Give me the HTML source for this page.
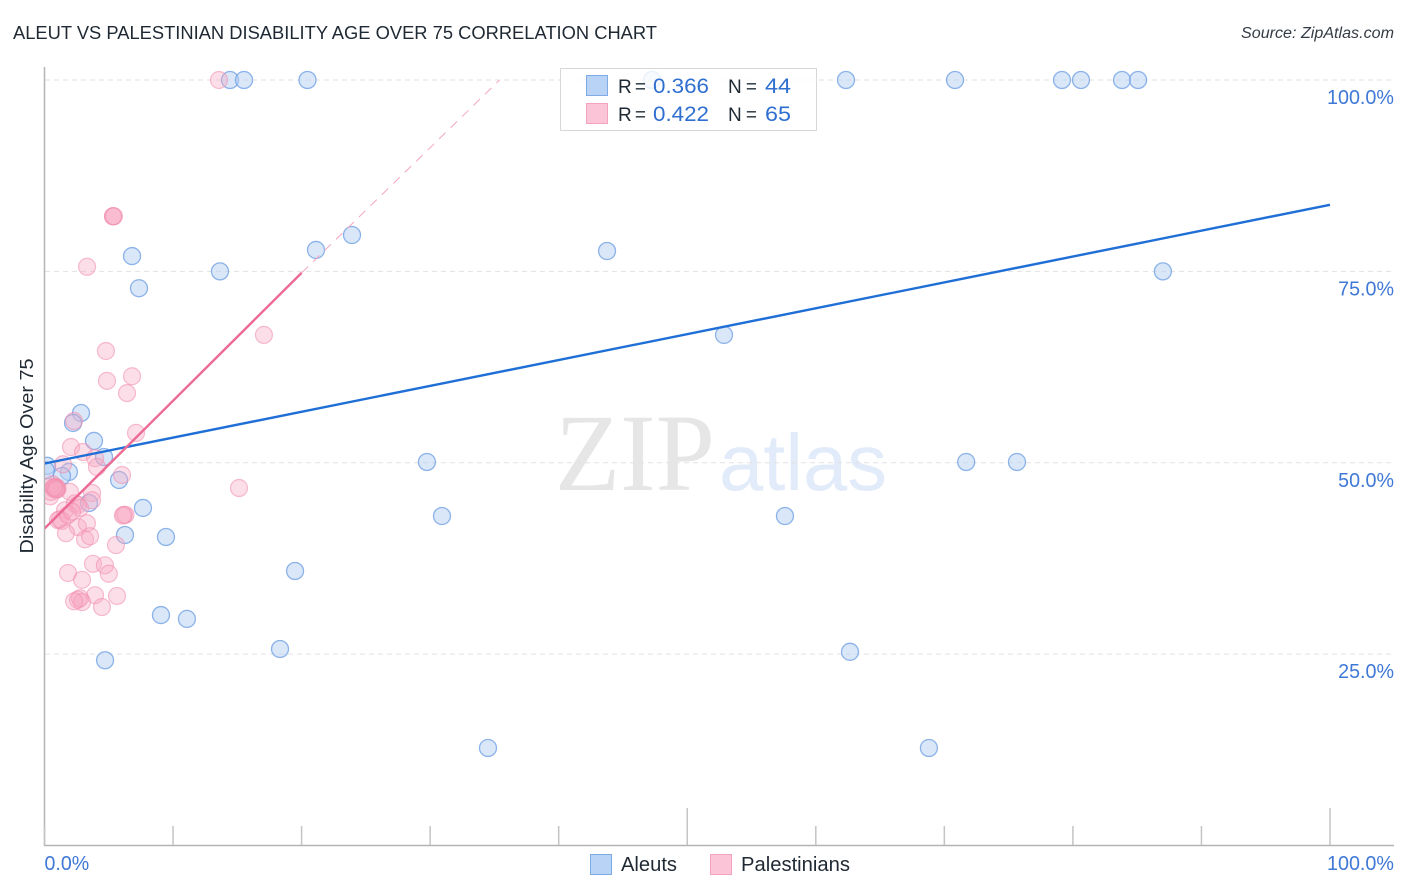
<!DOCTYPE html>
<html lang="en">
<head>
<meta charset="utf-8">
<title>Aleut vs Palestinian Disability Age Over 75 Correlation Chart</title>
<style>
html,body{margin:0;padding:0;background:#fff;}
svg{display:block;font-family:"Liberation Sans",sans-serif;}
</style>
</head>
<body>
<svg id="chart" width="1406" height="892" viewBox="0 0 1406 892" xmlns="http://www.w3.org/2000/svg">
  <defs>
    <clipPath id="plot-clip"><rect x="45" y="60" width="1349" height="786"/></clipPath>
  </defs>
  <rect x="0" y="0" width="1406" height="892" fill="#ffffff"/>
  <text x="13" y="39" font-size="18.5" fill="#1f2933" textLength="644" lengthAdjust="spacingAndGlyphs">ALEUT VS PALESTINIAN DISABILITY AGE OVER 75 CORRELATION CHART</text>
  <text x="1241" y="38" font-size="15.5" font-style="italic" fill="#333c45" textLength="153" lengthAdjust="spacingAndGlyphs">Source: ZipAtlas.com</text>
  <g>
    <text x="555" y="490" font-family="'Liberation Serif',serif" font-size="110" fill="#e6e6e6" textLength="160" lengthAdjust="spacingAndGlyphs">ZIP</text>
    <text x="719" y="490" font-size="80" fill="#e2ebf9" textLength="168" lengthAdjust="spacingAndGlyphs">atlas</text>
  </g>
  <g id="grid"></g>
  <g id="axes"></g>
  <g id="marks-aleut" clip-path="url(#plot-clip)"></g>
  <g id="marks-pal" clip-path="url(#plot-clip)"></g>
  <g id="trends" clip-path="url(#plot-clip)"></g>
  <text transform="translate(33,456) rotate(-90)" font-size="18" fill="#1f2933" text-anchor="middle" textLength="195" lengthAdjust="spacingAndGlyphs">Disability Age Over 75</text>
  <g id="tick-labels"></g>

  <g>
    <rect x="560.5" y="68.5" width="256" height="62" fill="#ffffff" fill-opacity="0.8" stroke="#d8d8d8" stroke-width="1"/>
    <rect x="586.5" y="75.5" width="21" height="20" fill="#b9d3f6" stroke="#7eaae6" stroke-width="1"/>
    <rect x="586.5" y="103.5" width="21" height="20" fill="#fcc5d7" stroke="#f4a3bd" stroke-width="1"/>
    <text x="618" y="93" font-size="19" fill="#1f2933" textLength="28">R =</text>
    <text x="653" y="93" font-size="21" fill="#2f6fd0" textLength="56" lengthAdjust="spacingAndGlyphs">0.366</text>
    <text x="728" y="93" font-size="19" fill="#1f2933" textLength="29">N =</text>
    <text x="765" y="93" font-size="21" fill="#2f6fd0" textLength="26" lengthAdjust="spacingAndGlyphs">44</text>
    <text x="618" y="121" font-size="19" fill="#1f2933" textLength="28">R =</text>
    <text x="653" y="121" font-size="21" fill="#2f6fd0" textLength="56" lengthAdjust="spacingAndGlyphs">0.422</text>
    <text x="728" y="121" font-size="19" fill="#1f2933" textLength="29">N =</text>
    <text x="765" y="121" font-size="21" fill="#2f6fd0" textLength="26" lengthAdjust="spacingAndGlyphs">65</text>
  </g>

  <g>
    <rect x="590.5" y="854.5" width="21" height="20" fill="#b9d3f6" stroke="#7eaae6" stroke-width="1"/>
    <text x="621" y="871" font-size="20" fill="#1f2933" textLength="56" lengthAdjust="spacingAndGlyphs">Aleuts</text>
    <rect x="710.5" y="854.5" width="21" height="20" fill="#fcc5d7" stroke="#f4a3bd" stroke-width="1"/>
    <text x="741" y="871" font-size="20" fill="#1f2933" textLength="109" lengthAdjust="spacingAndGlyphs">Palestinians</text>
  </g>
</svg>
<script>
// ---- chart data (percent values) ----
const aleutX = [14.43,15.52,20.46,47.26,62.35,70.83,79.15,80.63,83.82,85.07,6.81,7.35,13.65,21.12,23.92,43.76,87.0,52.86,2.84,2.22,3.85,4.63,0.2,0.1,1.9,1.36,5.8,3.46,7.66,6.26,9.45,29.75,30.92,57.6,71.7,75.65,19.49,9.06,11.08,18.32,62.66,4.71,34.5,68.8];
const aleutY = [100,100,100,100,100,100,100,100,100,100,77.0,72.8,75,77.8,79.75,77.66,75,66.7,56.5,55.2,52.85,50.75,49.6,49,48.8,48.27,47.75,44.74,44.1,40.56,40.3,50.1,43.04,43.04,50.1,50.1,35.86,30.1,29.6,25.67,25.3,24.2,12.74,12.74];
const palX = [13.57,5.33,5.33,5.4,3.31,17.07,4.78,4.86,6.81,6.42,7.12,2.29,2.06,3.0,3.93,4.08,6.03,1.44,15.13,0.8,0.9,1.0,0.7,0.8,0.9,0.43,0.5,0.6,1.98,3.7,3.7,1.6,2.37,1.05,1.36,1.2,2.6,3.3,1.67,3.15,3.54,5.56,6.18,6.3,6.1,3.77,4.7,5.0,1.83,2.92,5.64,3.93,2.6,2.76,2.92,2.3,4.47,2.6,2.76,1.83,2.14,0.8,1.0,0.7,0.9];
const palY = [100,82.2,82.2,82.2,75.6,66.7,64.6,60.7,61.3,59.1,53.9,55.45,52.06,51.4,50.6,49.45,48.4,49.8,46.7,46.9,46.6,46.5,46.6,46.7,46.8,45.6,46.2,47.2,46.2,46.05,45.1,43.8,44.7,42.5,42.4,42.6,41.6,42.1,40.8,40,40.4,39.25,43.2,43.2,43.1,36.8,36.6,35.5,35.6,34.7,32.6,32.7,32.1,32.3,31.8,31.9,31.15,44.5,44.1,43.2,43.6,46.7,46.7,46.8,46.5];
const aleutTrendX = [0,100];
const aleutTrendY = [49.9,83.7];
const palTrendSolidX = [0,20];
const palTrendSolidY = [41.4,74.8];
const palTrendDashX = [20,35.4];
const palTrendDashY = [74.8,100];
const yTicks = [100,75,50,25];
const yTickLabels = ["100.0%","75.0%","50.0%","25.0%"];
const xTicks = [0,10,20,30,40,50,60,70,80,90,100];
const xMajorTicks = [50,100];
const xEndTicks = [0,100];
const xEndLabels = ["0.0%","100.0%"];

// ---- axis functions ----
function sx(v){return 44.5 + v*12.855;}
function sy(v){return 845.5 - v*7.655;}
const NS = "http://www.w3.org/2000/svg";
function mk(tag,parent,props){
  const el = document.createElementNS(NS,tag);
  for(const k in props){el.setAttribute(k,props[k]);}
  parent.appendChild(el);
  return el;
}
const grid = document.getElementById("grid");
yTicks.forEach(function(t){
  const g = mk("line",grid,{x1:45,x2:1394,y1:sy(t),y2:sy(t),stroke:"#e2e2e2","stroke-width":1,"stroke-dasharray":"5 4"});
  
  
});
const axes = document.getElementById("axes");
const yAxis = mk("line",axes,{x1:44.5,x2:44.5,y1:67,y2:846,stroke:"#b4b4b4","stroke-width":1.5});


const xAxis = mk("line",axes,{x1:44,x2:1394,y1:845.5,y2:845.5,stroke:"#b4b4b4","stroke-width":1.5});


xTicks.forEach(function(t){
  const top = xMajorTicks.indexOf(t)>=0 ? 808 : 826;
  const tk = mk("line",axes,{x1:sx(t),x2:sx(t),y1:top,y2:845,stroke:"#c4c4c4","stroke-width":1.5});
  
  
});
function labelWidth(s){return s.length*11.17;}
const labels = document.getElementById("tick-labels");
yTicks.forEach(function(t,i){
  const l = mk("text",labels,{x:1394,y:sy(t)+24,"font-size":20,fill:"#3f78d6","text-anchor":"end",textLength:labelWidth(yTickLabels[i]),lengthAdjust:"spacingAndGlyphs"});
  l.textContent = yTickLabels[i];
  
  
});
xEndTicks.forEach(function(t,i){
  const anchor = i===0 ? "start" : "end";
  const px = i===0 ? sx(t) : 1394;
  const l = mk("text",labels,{x:px,y:870,"font-size":20,fill:"#3f78d6","text-anchor":anchor,textLength:labelWidth(xEndLabels[i]),lengthAdjust:"spacingAndGlyphs"});
  l.textContent = xEndLabels[i];
  
  
});
// ---- marks ----
const gA = document.getElementById("marks-aleut");
aleutX.forEach(function(v,i){
  const c = mk("circle",gA,{cx:sx(v),cy:sy(aleutY[i]),r:8.5,fill:"#b3cff4","fill-opacity":0.5,stroke:"#7aa7e5","stroke-opacity":0.85,"stroke-width":1.3});
  
  
});
const gP = document.getElementById("marks-pal");
palX.forEach(function(v,i){
  const c = mk("circle",gP,{cx:sx(v),cy:sy(palY[i]),r:8.5,fill:"#f8a9c3","fill-opacity":0.38,stroke:"#f08bab","stroke-opacity":0.55,"stroke-width":1.2});
  
  
});
// ---- trends ----
const gT = document.getElementById("trends");
const t1 = mk("line",gT,{x1:sx(aleutTrendX[0]),y1:sy(aleutTrendY[0]),x2:sx(aleutTrendX[1]),y2:sy(aleutTrendY[1]),stroke:"#1f6fd6","stroke-width":2.4});


const t2 = mk("line",gT,{x1:sx(palTrendSolidX[0]),y1:sy(palTrendSolidY[0]),x2:sx(palTrendSolidX[1]),y2:sy(palTrendSolidY[1]),stroke:"#ec6a94","stroke-width":2.4});


const t3 = mk("line",gT,{x1:sx(palTrendDashX[0]),y1:sy(palTrendDashY[0]),x2:sx(palTrendDashX[1]),y2:sy(palTrendDashY[1]),stroke:"#f3a5bf","stroke-width":1,"stroke-dasharray":"9 7"});


</script>
</body>
</html>
